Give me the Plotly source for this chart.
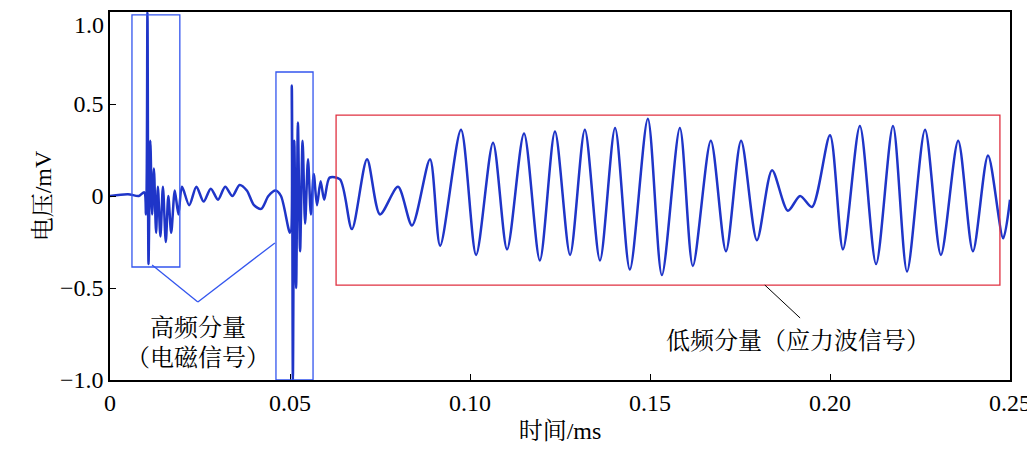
import plotly.graph_objects as go

# 时间 (ms) / 电压 (mV)
t_high = [0, 0.005, 0.008, 0.0095, 0.0100, 0.0104, 0.0107, 0.0112, 0.0117, 0.0122, 0.0128, 0.0133,
          0.014, 0.0147, 0.0155, 0.0162, 0.017, 0.018, 0.019, 0.020, 0.022, 0.024, 0.026, 0.028,
          0.030, 0.032, 0.034, 0.036, 0.038, 0.040, 0.042, 0.044, 0.046, 0.0475, 0.0500, 0.0505,
          0.0508, 0.0512, 0.0517, 0.0522, 0.0528, 0.0535, 0.0542, 0.055, 0.0558, 0.0566, 0.0575,
          0.0585, 0.0595, 0.061]
v_high = [0.0, 0.01, 0.0, 0.02, -0.1, 1.0, -0.37, 0.3, -0.1, 0.15, -0.2, 0.05,
          -0.22, 0.05, -0.25, 0.0, -0.2, 0.03, -0.1, 0.05, -0.05, 0.05, -0.03, 0.04,
          -0.02, 0.05, 0.0, 0.06, 0.03, -0.05, -0.07, 0.0, 0.03, 0.0, -0.2, 0.6,
          -1.0, 0.3, -0.5, 0.4, -0.3, 0.3, -0.15, 0.2, -0.1, 0.12, -0.05,
          0.08, -0.02, 0.1]
t_low = [0.0639, 0.0672, 0.0714, 0.075, 0.080, 0.0839, 0.0889, 0.0917, 0.0975, 0.1017, 0.1064,
         0.1103, 0.115, 0.1194, 0.1236, 0.1278, 0.1319, 0.1361, 0.1403, 0.1444, 0.1494, 0.1533,
         0.1583, 0.1619, 0.1669, 0.1711, 0.1753, 0.1797, 0.1839, 0.1883, 0.1917, 0.195, 0.2,
         0.2036, 0.2083, 0.2128, 0.2175, 0.2214, 0.2264, 0.2308, 0.2356, 0.2397, 0.2439, 0.2481, 0.25]
v_low = [0.09, -0.18, 0.20, -0.10, 0.05, -0.16, 0.20, -0.27, 0.36, -0.32, 0.29,
         -0.29, 0.34, -0.35, 0.35, -0.32, 0.36, -0.35, 0.37, -0.40, 0.42, -0.43,
         0.37, -0.38, 0.30, -0.30, 0.30, -0.24, 0.14, -0.08, 0.0, -0.06, 0.33,
         -0.29, 0.38, -0.37, 0.38, -0.41, 0.36, -0.32, 0.30, -0.30, 0.22, -0.23, -0.02]

x_ticks = [0, 0.05, 0.10, 0.15, 0.20, 0.25]
x_labels = ["0", "0.05", "0.10", "0.15", "0.20", "0.25"]
y_ticks = [1.0, 0.5, 0, -0.5, -1.0]
y_labels = ["", "0.5", "0", "−0.5", "−1.0"]  # top label drawn below, it gets clipped otherwise

FONT = "Liberation Serif, Noto Serif CJK SC, Noto Sans CJK SC"
BLUE = "#1f35c8"

fig = go.Figure()
fig.add_trace(go.Scatter(x=t_high + t_low, y=v_high + v_low, mode="lines",
                         line=dict(color=BLUE, width=2.5, shape="spline", smoothing=0.8),
                         showlegend=False))

# boxes around the components
fig.add_shape(type="rect", x0=0.0061, x1=0.0194, y0=-0.386, y1=0.984, line=dict(color="#3355ee", width=1.3))
fig.add_shape(type="rect", x0=0.0461, x1=0.0564, y0=-1.0, y1=0.674, line=dict(color="#3355ee", width=1.3))
fig.add_shape(type="rect", x0=0.0628, x1=0.2472, y0=-0.484, y1=0.44, line=dict(color="#e03040", width=1.3))
fig.add_shape(type="line", x0=0.0244, y0=-0.576, x1=0.0117, y1=-0.375, line=dict(color="#3355ee", width=1.3))
fig.add_shape(type="line", x0=0.0244, y0=-0.576, x1=0.0458, y1=-0.255, line=dict(color="#3355ee", width=1.3))
fig.add_shape(type="line", x0=0.1819, y0=-0.484, x1=0.1917, y1=-0.663, line=dict(color="black", width=1))

TF = dict(size=24, color="black", family=FONT)
fig.add_annotation(x=0.0245, y=-0.72, text="高频分量", showarrow=False, font=TF)
fig.add_annotation(x=0.0245, y=-0.88, text="（电磁信号）", showarrow=False, font=TF)
fig.add_annotation(x=0.191, y=-0.79, text="低频分量（应力波信号）", showarrow=False, font=TF)
fig.add_annotation(xref="paper", x=0, xanchor="right", xshift=-4, y=y_ticks[0], yanchor="top", yshift=2,
                   text="1.0", showarrow=False, font=TF)

axis = dict(showline=True, linecolor="black", linewidth=1.5, mirror=True, ticks="inside",
            ticklen=6, tickcolor="black", showgrid=False, zeroline=False, automargin=False,
            tickfont=dict(size=24, color="black", family=FONT))
fig.update_xaxes(range=[0, 0.25], tickvals=x_ticks, ticktext=x_labels,
                 title=dict(text="时间/ms", font=TF, standoff=8), **axis)
fig.update_yaxes(range=[-1.0, 1.0], tickvals=y_ticks, ticktext=y_labels,
                 title=dict(text="电压/mV", font=TF, standoff=2), **axis)
fig.update_layout(width=1035, height=464, margin=dict(l=102, r=33, t=4, b=92, autoexpand=False),
                  plot_bgcolor="white", paper_bgcolor="white")
fig.write_html("out.html")
